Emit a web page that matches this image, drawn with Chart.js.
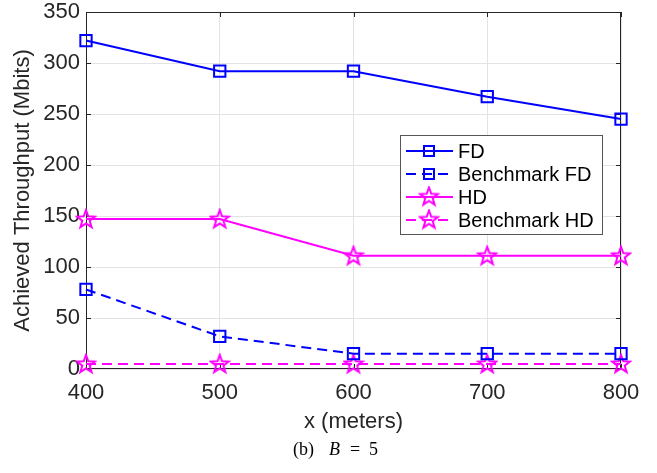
<!DOCTYPE html>
<html>
<head>
<meta charset="utf-8">
<script src="https://cdn.jsdelivr.net/npm/chart.js@4.4.0/dist/chart.umd.min.js"></script>
<style>
  html, body { margin: 0; padding: 0; background: #fff; }
  #wrap { width: 657px; height: 473px; position: relative; }
</style>
</head>
<body>
<div id="wrap"><canvas id="c"></canvas></div>
<script>
// data
const distances = [400, 500, 600, 700, 800];
const fdValues = [322, 292, 292, 267, 245];
const benchFdValues = [78, 32, 15, 15, 15];
const hdValues = [147, 147, 111, 111, 111];
const benchHdValues = [5, 5, 5, 5, 5];
const seriesNames = ["FD", "Benchmark FD", "HD", "Benchmark HD"];
const yTicks = [0, 50, 100, 150, 200, 250, 300, 350];

const BLUE = "#0000ff";
const MAGENTA = "#ff00ff";
const AXIS = "#262626";
const SANS = "'Liberation Sans', Arial, sans-serif";
const SERIF = "'Liberation Serif', 'DejaVu Serif', serif";

// pentagram marker like matlab's 'p'
function makeStar(color) {
  const c = document.createElement("canvas");
  c.width = 22; c.height = 22;
  const g = c.getContext("2d");
  const R = 9.5, r = 3.9, cx = 11, cy = 11.5;
  g.beginPath();
  for (let i = 0; i < 10; i++) {
    const a = -Math.PI / 2 + i * Math.PI / 5;
    const rad = i % 2 ? r : R;
    const px = cx + rad * Math.cos(a), py = cy + rad * Math.sin(a);
    i ? g.lineTo(px, py) : g.moveTo(px, py);
  }
  g.closePath();
  g.strokeStyle = color;
  g.lineWidth = 2;
  g.stroke();
  return c;
}
const star = makeStar(MAGENTA);

function pts(vals) {
  return distances.map((d, i) => ({x: d, y: vals[i]}));
}

const frameAndLegend = {
  id: "frameAndLegend",
  beforeDatasetsDraw(chart) {
    const ctx = chart.ctx;
    const a = chart.chartArea;
    const xs = chart.scales.x, ys = chart.scales.y;
    ctx.save();
    // box + inward ticks
    ctx.strokeStyle = AXIS;
    ctx.lineWidth = 1;
    ctx.strokeRect(a.left + 0.5, a.top + 0.5, a.right - a.left - 1, a.bottom - a.top - 1);
    ctx.beginPath();
    distances.forEach(d => {
      const px = Math.round(xs.getPixelForValue(d)) + 0.5;
      ctx.moveTo(px, a.bottom); ctx.lineTo(px, a.bottom - 5);
      ctx.moveTo(px, a.top); ctx.lineTo(px, a.top + 5);
    });
    yTicks.forEach(v => {
      const py = Math.round(ys.getPixelForValue(v)) + 0.5;
      ctx.moveTo(a.left, py); ctx.lineTo(a.left + 5, py);
      ctx.moveTo(a.right, py); ctx.lineTo(a.right - 5, py);
    });
    ctx.stroke();
    ctx.restore();
  },
  afterDraw(chart) {
    const ctx = chart.ctx;
    ctx.save();
    // legend box
    const lx = 400, ly = 135, lw = 202, lh = 99;
    ctx.fillStyle = "#fff";
    ctx.fillRect(lx, ly, lw, lh);
    ctx.strokeStyle = "#555";
    ctx.lineWidth = 1;
    ctx.strokeRect(lx + 0.5, ly + 0.5, lw, lh);
    const rows = [151, 174, 197, 220];
    chart.data.datasets.forEach((ds, i) => {
      const y = rows[i];
      ctx.beginPath();
      ctx.strokeStyle = ds.borderColor;
      ctx.lineWidth = 2;
      ctx.setLineDash(ds.borderDash || []);
      ctx.moveTo(406, y); ctx.lineTo(453, y);
      ctx.stroke();
      ctx.setLineDash([]);
      if (ds.pointStyle === "rect") {
        ctx.strokeRect(424, y - 5, 10, 10);
      } else {
        ctx.drawImage(star, 429 - 11, y - 11.5);
      }
      ctx.fillStyle = "#000";
      ctx.font = "20px " + SANS;
      ctx.textBaseline = "middle";
      ctx.textAlign = "left";
      ctx.fillText(ds.label, 458, y + 1);
    });

    // caption
    ctx.fillStyle = "#000";
    ctx.textBaseline = "alphabetic";
    ctx.font = "18px " + SERIF;
    ctx.fillText("(b)", 293, 455);
    ctx.font = "italic 18px " + SERIF;
    ctx.fillText("B", 329, 455);
    ctx.font = "18px " + SERIF;
    ctx.fillText("=", 350, 455);
    ctx.fillText("5", 369, 455);
    ctx.restore();
  }
};

const common = {borderWidth: 2, clip: false};

new Chart("c", {
  type: "line",
  data: {
    datasets: [{
      ...common,
      label: seriesNames[0],
      data: pts(fdValues),
      borderColor: BLUE,
      pointStyle: "rect",
      pointRadius: 8,
      pointBorderWidth: 2,
      pointBorderColor: BLUE,
      pointBackgroundColor: "rgba(0,0,0,0)"
    }, {
      ...common,
      label: seriesNames[1],
      data: pts(benchFdValues),
      borderColor: BLUE,
      borderDash: [10, 6],
      pointStyle: "rect",
      pointRadius: 8,
      pointBorderWidth: 2,
      pointBorderColor: BLUE,
      pointBackgroundColor: "rgba(0,0,0,0)"
    }, {
      ...common,
      label: seriesNames[2],
      data: pts(hdValues),
      borderColor: MAGENTA,
      pointStyle: star,
      pointRadius: 10
    }, {
      ...common,
      label: seriesNames[3],
      data: pts(benchHdValues),
      borderColor: MAGENTA,
      borderDash: [10, 6],
      pointStyle: star,
      pointRadius: 10
    }]
  },
  options: {
    responsive: true,
    maintainAspectRatio: false,
    animation: false,
    layout: {padding: {left: 0, right: 36, top: 0, bottom: 34}},
    plugins: {legend: {display: false}, tooltip: {enabled: false}},
    scales: {
      x: {
        type: "linear",
        min: 400, max: 800,
        afterFit: s => { s.height = 70; },
        afterBuildTicks: s => { s.ticks = distances.map(v => ({value: v})); },
        grid: {color: "#e3e3e3", drawTicks: false},
        border: {display: false},
        ticks: {color: AXIS, padding: 11, font: {size: 22, family: SANS}},
        title: {display: true, text: "x (meters)", color: AXIS, padding: {top: 0, bottom: 4},
                font: {size: 22, family: SANS}}
      },
      y: {
        min: 0, max: 350,
        afterFit: s => { s.width = 86; s.paddingTop = 12; },
        afterBuildTicks: s => { s.ticks = yTicks.map(v => ({value: v})); },
        grid: {color: "#e3e3e3", drawTicks: false},
        border: {display: false},
        ticks: {color: AXIS, padding: 6, font: {size: 22, family: SANS}},
        title: {display: true, text: "Achieved Throughput (Mbits)", color: AXIS, padding: {top: 10, bottom: 0},
                font: {size: 22, family: SANS}}
      }
    }
  },
  plugins: [frameAndLegend]
});
</script>
</body>
</html>
